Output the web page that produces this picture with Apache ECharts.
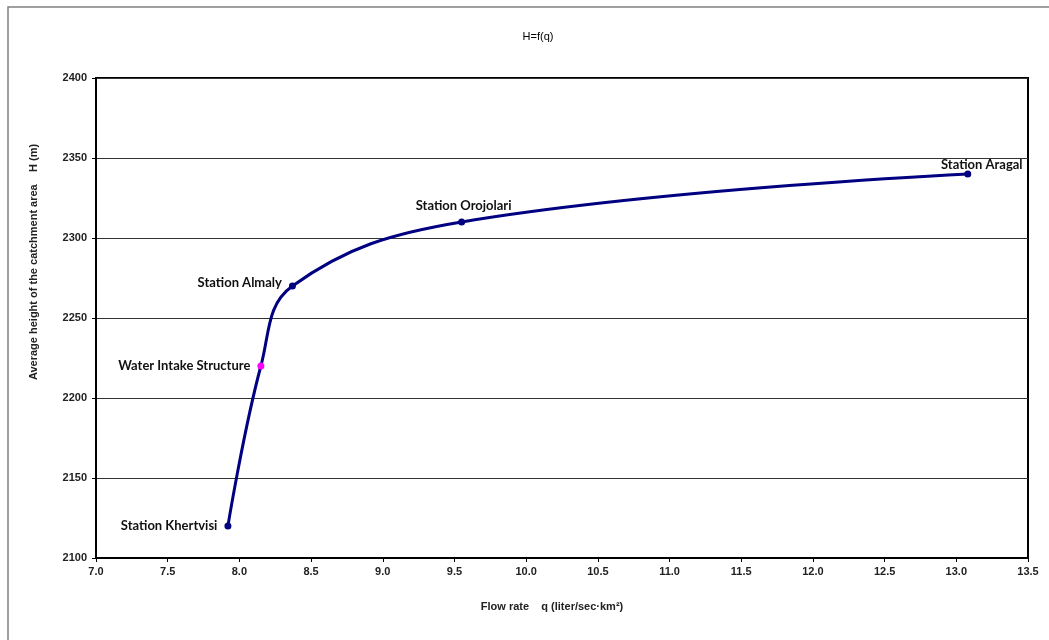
<!DOCTYPE html>
<html>
<head>
<meta charset="utf-8">
<script src="https://cdn.jsdelivr.net/npm/echarts@6/dist/echarts.min.js"></script>
<style>
html,body{margin:0;padding:0;background:#fff;}
#chart{width:1049px;height:640px;}
</style>
</head>
<body>
<div id="chart"></div>
<script>
const stations = ['Station Khertvisi', 'Water Intake Structure', 'Station Almaly', 'Station Orojolari', 'Station Aragal'];
const qValues = [7.92, 8.15, 8.37, 9.55, 13.08];
const hValues = [2120, 2220, 2270, 2310, 2340];
const pointColors = ['#000080', '#FF00FF', '#000080', '#000080', '#000080'];
const labelPositions = ['left', 'left', 'left', 'top', 'top'];
const labelOffsets = [[-2, 0], [-2, 0], [-2, -3], [2, -1], [14, 6]];

const chart = echarts.init(document.getElementById('chart'));
const data = qValues.map((q, i) => ({
  value: [q, hValues[i]],
  name: stations[i],
  itemStyle: { color: pointColors[i] },
  label: { position: labelPositions[i], offset: labelOffsets[i] }
}));

chart.setOption({
  animation: false,
  backgroundColor: '#fff',
  title: {
    text: 'H=f(q)',
    left: 533, top: 26, textAlign: 'center',
    textStyle: { fontFamily: 'Liberation Sans', fontSize: 11, fontWeight: 'normal', color: '#000' }
  },
  graphic: [{
    type: 'rect', shape: { x: 8, y: 7, width: 1200, height: 800 },
    style: { fill: null, stroke: '#808080', lineWidth: 1.5 }, silent: true
  }, {
    type: 'text', x: 34, y: 262, rotation: Math.PI / 2,
    style: {
      text: 'Average height of the catchment area    H (m)',
      font: 'bold 11px "Liberation Sans"', fill: '#222',
      align: 'center', verticalAlign: 'middle'
    }
  }],
  grid: { left: 96, top: 78, right: 21, bottom: 82, show: true, borderColor: '#000', borderWidth: 2, backgroundColor: 'transparent' },
  xAxis: {
    type: 'value', min: 7, max: 13.5, interval: 0.5,
    name: 'Flow rate    q (liter/sec·km²)', nameLocation: 'middle', nameGap: 43,
    nameTextStyle: { fontFamily: 'Liberation Sans', fontSize: 11, fontWeight: 'bold', color: '#222', padding: [0, 20, 0, 0] },
    axisLine: { show: true, lineStyle: { color: '#000', width: 2 } },
    axisTick: { show: true, length: 4, lineStyle: { color: '#000' } },
    axisLabel: { formatter: v => v.toFixed(1), fontFamily: 'Liberation Sans', fontSize: 11, fontWeight: 'bold', color: '#222', margin: 8 },
    splitLine: { show: false }
  },
  yAxis: {
    type: 'value', min: 2100, max: 2400, interval: 50,
    axisLine: { show: true, lineStyle: { color: '#000', width: 2 } },
    axisTick: { show: true, length: 4, lineStyle: { color: '#000' } },
    axisLabel: { formatter: v => String(v), fontFamily: 'Liberation Sans', fontSize: 11, fontWeight: 'bold', color: '#222', margin: 9 },
    splitLine: { show: true, lineStyle: { color: '#333', width: 1 } }
  },
  series: [{
    type: 'line',
    data: data,
    smooth: 0.4,
    symbol: 'circle',
    symbolSize: 7,
    lineStyle: { color: '#000080', width: 3 },
    label: {
      show: true,
      formatter: p => p.name,
      fontFamily: 'Lato', fontSize: 13, fontWeight: 'bold', color: '#111'
    },
    z: 5
  }]
});
</script>
</body>
</html>
